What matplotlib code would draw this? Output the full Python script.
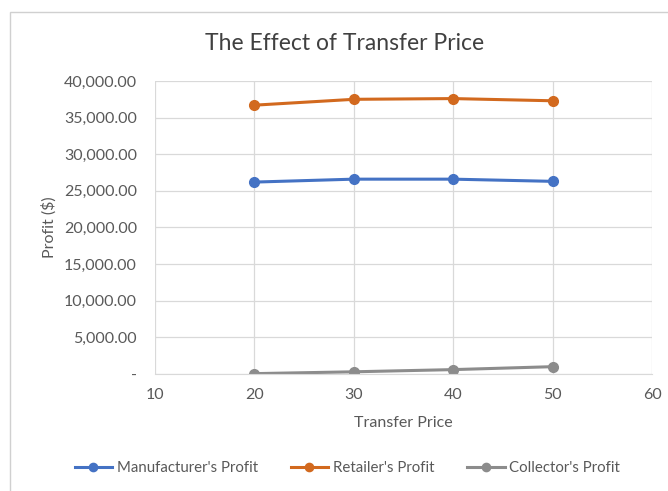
import matplotlib.pyplot as plt
from matplotlib.patches import Rectangle
from matplotlib.ticker import FuncFormatter

plt.rcParams["font.family"] = ["Lato", "DejaVu Sans"]

transfer_price = [20, 30, 40, 50]
manufacturer_profit = [26200, 26600, 26600, 26300]
retailer_profit = [36700, 37500, 37600, 37300]
collector_profit = [50, 300, 600, 1000]

x_ticks = [10, 20, 30, 40, 50, 60]
y_ticks = [0, 5000, 10000, 15000, 20000, 25000, 30000, 35000, 40000]

TEXT = "#595959"
GRID = "#d9d9d9"


def money(v, pos):
    if v == 0:
        return "-"
    return f"{v:,.2f}"


fig = plt.figure(figsize=(6.68, 4.91), dpi=100)
fig.patch.set_facecolor("white")
fig.add_artist(Rectangle((10 / 668, -0.02), 1.0, 1 - 12 / 491 + 0.02,
                         transform=fig.transFigure, facecolor="none",
                         edgecolor="#d0d0d0", linewidth=1.0, zorder=-1))

ax = fig.add_axes([155 / 668, 117 / 491, 497 / 668, 293 / 491])
ax.patch.set_alpha(0)
ax.plot(transfer_price, manufacturer_profit, color="#4472c4", marker="o",
        markersize=7, linewidth=2.2, label="Manufacturer's Profit")
ax.plot(transfer_price, retailer_profit, color="#d2691e", marker="o",
        markersize=7, linewidth=2.2, label="Retailer's Profit")
ax.plot(transfer_price, collector_profit, color="#8c8c8c", marker="o",
        markersize=7, linewidth=2.2, label="Collector's Profit")

ax.set_xlim(10, 60)
ax.set_ylim(0, 40000)
ax.set_xticks(x_ticks)
ax.set_yticks(y_ticks)
ax.yaxis.set_major_formatter(FuncFormatter(money))
ax.grid(True, color=GRID, linewidth=0.9)
ax.set_axisbelow(True)
for side in ["top", "right", "left"]:
    ax.spines[side].set_visible(False)
ax.spines["bottom"].set_color(GRID)
ax.tick_params(length=0, colors=TEXT, labelsize=11.5)
ax.tick_params(axis="y", pad=13)
ax.tick_params(axis="x", pad=10)

fig.text(345 / 668, 1 - 44 / 491, "The Effect of Transfer Price", fontsize=16.5,
         color="#404040", ha="center", va="center")
ax.set_xlabel("Transfer Price", fontsize=11.5, color=TEXT, labelpad=10)
ax.set_ylabel("Profit ($)", fontsize=11.5, color=TEXT, labelpad=5)

fig.legend(loc="center", bbox_to_anchor=(0.52, 23 / 491), ncol=3, frameon=False,
           fontsize=10.8, labelcolor=TEXT, handlelength=2.5, columnspacing=2.2,
           handletextpad=0.3, markerscale=0.85)

fig.savefig("out.png", dpi=100)
